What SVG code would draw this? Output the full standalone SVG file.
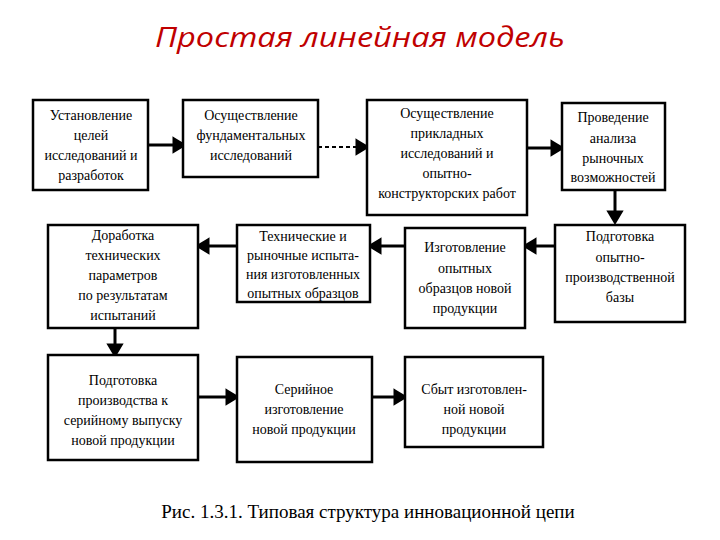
<svg xmlns="http://www.w3.org/2000/svg" width="720" height="540" viewBox="0 0 720 540">
<style>
.b{fill:#fff;stroke:#000;stroke-width:2.5}
.t{font-family:"Liberation Serif",serif;font-size:14px;text-anchor:middle;fill:#000}
</style>
<rect width="720" height="540" fill="#fff"/>
<text x="360" y="47" font-family="Open Sans,sans-serif" font-style="italic" font-size="27" fill="#c00000" text-anchor="middle" textLength="410" lengthAdjust="spacingAndGlyphs">Простая линейная модель</text>
<g id="connectors" stroke="#000" stroke-width="3">
<line x1="148" y1="145" x2="174" y2="145"/><path d="M174,139L184,145L174,151z"/>
<line x1="318" y1="147" x2="357" y2="147" stroke-dasharray="4,3" stroke-width="2"/><path d="M357,141L367,147L357,153z"/>
<line x1="527" y1="148" x2="552" y2="148"/><path d="M552,142L562,148L552,154z"/>
<line x1="615" y1="190" x2="615" y2="212"/><path d="M609,212L615,222L621,212z"/>
<line x1="555" y1="246" x2="535" y2="246"/><path d="M535,240L525,246L535,252z"/>
<line x1="405" y1="246" x2="380" y2="246"/><path d="M380,240L370,246L380,252z"/>
<line x1="237" y1="246" x2="208" y2="246"/><path d="M208,240L198,246L208,252z"/>
<line x1="115" y1="328" x2="115" y2="345"/><path d="M109,345L115,355L121,345z"/>
<line x1="198" y1="397" x2="227" y2="397"/><path d="M227,391L237,397L227,403z"/>
<line x1="372" y1="397" x2="395" y2="397"/><path d="M395,391L405,397L395,403z"/>
</g>
<g id="n1"><rect class="b" x="33" y="100" width="115" height="90"/><text class="t"><tspan x="91" y="120">Установление</tspan><tspan x="91" y="140">целей</tspan><tspan x="91" y="160">исследований и</tspan><tspan x="91" y="180">разработок</tspan></text></g>
<g id="n2"><rect class="b" x="183" y="100" width="135" height="77"/><text class="t"><tspan x="251" y="120">Осуществление</tspan><tspan x="251" y="140">фундаментальных</tspan><tspan x="251" y="160">исследований</tspan></text></g>
<g id="n3"><rect class="b" x="367" y="100" width="160" height="115"/><text class="t"><tspan x="447" y="118">Осуществление</tspan><tspan x="447" y="138">прикладных</tspan><tspan x="447" y="158">исследований и</tspan><tspan x="447" y="178">опытно-</tspan><tspan x="447" y="198">конструкторских работ</tspan></text></g>
<g id="n4"><rect class="b" x="562" y="103" width="103" height="87"/><text class="t"><tspan x="613" y="122">Проведение</tspan><tspan x="613" y="143">анализа</tspan><tspan x="613" y="163">рыночных</tspan><tspan x="613" y="182">возможностей</tspan></text></g>
<g id="n5"><rect class="b" x="48" y="225" width="150" height="103"/><text class="t"><tspan x="123" y="240">Доработка</tspan><tspan x="123" y="260">технических</tspan><tspan x="123" y="280">параметров</tspan><tspan x="123" y="300">по результатам</tspan><tspan x="123" y="320">испытаний</tspan></text></g>
<g id="n6"><rect class="b" x="237" y="225" width="133" height="77"/><text class="t"><tspan x="303" y="241">Технические и</tspan><tspan x="303" y="260">рыночные испыта-</tspan><tspan x="303" y="279">ния изготовленных</tspan><tspan x="303" y="298">опытных образцов</tspan></text></g>
<g id="n7"><rect class="b" x="405" y="228" width="120" height="100"/><text class="t"><tspan x="465" y="252">Изготовление</tspan><tspan x="465" y="273">опытных</tspan><tspan x="465" y="293">образцов новой</tspan><tspan x="465" y="313">продукции</tspan></text></g>
<g id="n8"><rect class="b" x="555" y="225" width="130" height="97"/><text class="t"><tspan x="620" y="241">Подготовка</tspan><tspan x="620" y="262">опытно-</tspan><tspan x="620" y="282">производственной</tspan><tspan x="620" y="302">базы</tspan></text></g>
<g id="n9"><rect class="b" x="48" y="355" width="150" height="105"/><text class="t"><tspan x="123" y="385">Подготовка</tspan><tspan x="123" y="405">производства к</tspan><tspan x="123" y="425">серийному выпуску</tspan><tspan x="123" y="445">новой продукции</tspan></text></g>
<g id="n10"><rect class="b" x="237" y="357" width="135" height="105"/><text class="t"><tspan x="304" y="394">Серийное</tspan><tspan x="304" y="414">изготовление</tspan><tspan x="304" y="434">новой продукции</tspan></text></g>
<g id="n11"><rect class="b" x="405" y="357" width="138" height="90"/><text class="t"><tspan x="474" y="394">Сбыт изготовлен-</tspan><tspan x="474" y="414">ной новой</tspan><tspan x="474" y="434">продукции</tspan></text></g>
<text x="368" y="518" font-family="Liberation Serif,serif" font-size="19" text-anchor="middle">Рис. 1.3.1. Типовая структура инновационной цепи</text>
</svg>
